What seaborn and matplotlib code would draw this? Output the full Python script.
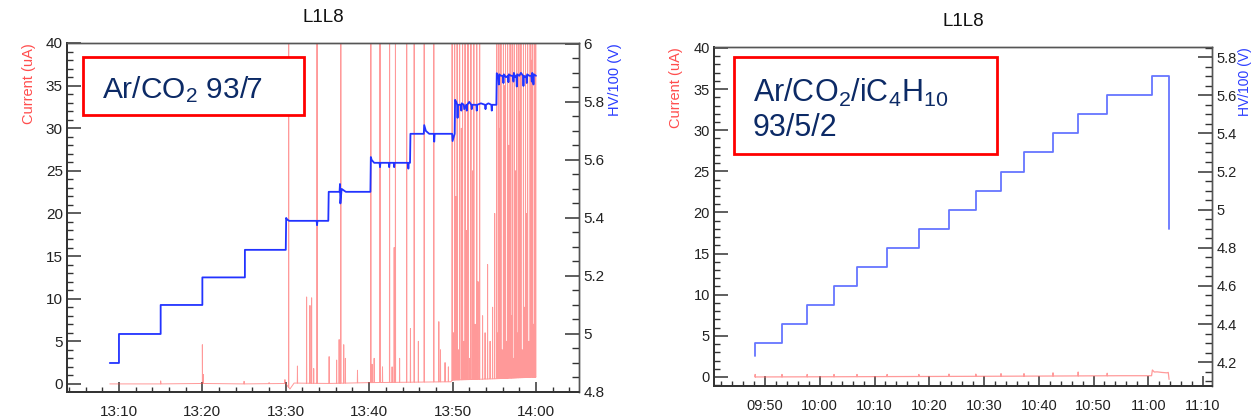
import numpy as np
import matplotlib
matplotlib.use("Agg")
import matplotlib.pyplot as plt
from matplotlib.ticker import MultipleLocator, FuncFormatter
from matplotlib.patches import Rectangle
import seaborn as sns

# ---------------- data (time in minutes after the hour of the first tick) -------------
# Left panel: Ar/CO2 93/7, minutes after 13:00
hv_left_t = [8.9, 10.0, 10.0, 15.0, 15.0, 20.0, 20.0, 25.1, 25.1, 30.0, 30.05, 30.15, 30.4,
             33.7, 33.75, 33.8, 35.1, 35.15, 36.45, 36.5, 36.55, 36.7, 37.2,
             40.15, 40.2, 40.3, 40.6, 41.25, 41.3, 41.35, 42.35, 42.4, 42.45, 42.95, 43.0, 43.05,
             44.65, 44.7, 44.75, 44.9, 44.95, 46.55, 46.6, 46.8, 47.2, 47.75, 47.8, 47.85,
             49.95, 50.0, 50.25, 50.3, 50.45, 50.55, 50.6, 50.65, 51.0, 51.05, 51.1, 51.35, 51.4,
             51.65, 51.7, 51.75, 52.0, 52.25, 52.3, 52.35, 52.6, 52.85, 52.9, 52.95, 53.4, 53.9,
             53.95, 54.0, 54.3, 54.65, 54.7, 54.75, 55.25, 55.3, 55.4, 55.5, 55.55, 55.6, 55.8,
             56.05, 56.1, 56.15, 56.4, 56.65, 56.7, 56.75, 57.0, 57.25, 57.3, 57.35, 57.5, 57.65,
             57.7, 57.75, 58.0, 58.2, 58.45, 58.5, 58.55, 58.7, 58.85, 58.9, 58.95, 59.2, 59.45,
             59.5, 59.55, 59.65, 59.7, 59.75, 60.0]
hv_left_v = [4.90, 4.90, 5.00, 5.00, 5.10, 5.10, 5.195, 5.195, 5.29, 5.29, 5.40, 5.395, 5.39,
             5.39, 5.375, 5.39, 5.39, 5.49, 5.49, 5.517, 5.45, 5.50, 5.49,
             5.49, 5.61, 5.60, 5.59, 5.59, 5.575, 5.59, 5.59, 5.575, 5.59, 5.59, 5.575, 5.59,
             5.59, 5.57, 5.59, 5.59, 5.69, 5.69, 5.72, 5.70, 5.69, 5.69, 5.663, 5.69,
             5.69, 5.665, 5.69, 5.807, 5.80, 5.79, 5.745, 5.79, 5.79, 5.77, 5.795, 5.79, 5.775,
             5.79, 5.77, 5.79, 5.80, 5.79, 5.775, 5.79, 5.79, 5.79, 5.77, 5.79, 5.795, 5.79,
             5.775, 5.79, 5.795, 5.79, 5.77, 5.79, 5.79, 5.899, 5.89, 5.885, 5.86, 5.895, 5.89,
             5.89, 5.865, 5.895, 5.885, 5.89, 5.868, 5.895, 5.89, 5.89, 5.87, 5.9, 5.885, 5.89,
             5.853, 5.895, 5.89, 5.90, 5.89, 5.855, 5.89, 5.885, 5.89, 5.865, 5.895, 5.89, 5.89,
             5.87, 5.9, 5.885, 5.86, 5.895, 5.89]

cur_left_base_t = [8.9, 15.0, 20.0, 25.0, 30.0, 30.5, 31.0, 35.0, 40.0, 45.0, 49.8, 50.0, 55.0, 60.0]
cur_left_base_v = [0.0, 0.0, 0.05, 0.0, 0.05, -0.6, 0.1, 0.05, 0.15, 0.2, 0.25, 0.45, 0.6, 0.8]
spike_left_t = [15.0, 20.0, 20.12, 25.0, 28.0, 29.9,
                30.35, 31.4, 32.5, 32.9, 33.1, 33.35, 33.75, 35.2, 36.1, 36.4, 36.6, 36.95, 37.15,
                38.6, 40.2, 40.35, 40.6, 41.3, 41.6, 42.45, 42.75, 43.0, 43.15, 43.65, 44.5, 44.95,
                45.4, 45.9, 46.6, 47.75, 48.35, 48.55, 49.1, 49.5,
                49.95, 50.1, 50.25, 50.4, 50.55, 50.7, 50.85, 51.05, 51.2, 51.35, 51.5, 51.7, 51.85,
                52.05, 52.2, 52.4, 52.55, 52.7, 52.9, 53.05, 53.25,
                53.6, 53.9, 54.2, 54.5, 54.8, 55.05,
                55.3, 55.45, 55.55, 55.7, 55.8, 55.95, 56.1, 56.2, 56.35, 56.5, 56.6, 56.75, 56.9,
                57.05, 57.15, 57.3, 57.4, 57.55, 57.7, 57.85, 57.95, 58.1, 58.2, 58.35, 58.5,
                58.65, 58.75, 58.9, 59.0, 59.15, 59.3, 59.4, 59.55, 59.7, 59.8, 59.9, 59.97]
spike_left_h = [0.35, 4.6, 1.1, 0.3, 0.15, 0.5,
                45, 2.1, 10.2, 9.2, 10.1, 1.8, 45, 3.2, 2.8, 5.2, 45, 4.6, 3.0,
                1.6, 45, 2.3, 3.0, 45, 2.0, 45, 2.0, 16, 45, 3.0, 45, 6.5,
                45, 5.0, 45, 45, 7.3, 4.0, 2.5, 2.0,
                45, 6, 45, 22, 45, 4, 45, 30, 45, 5, 45, 18, 45,
                3, 45, 25, 45, 7, 45, 12, 45,
                8, 6, 14, 5, 9, 20,
                45, 6, 45, 30, 45, 4, 45, 35, 45, 5, 45, 28, 45,
                8, 45, 3, 45, 25, 45, 6, 45, 32, 45, 4, 45,
                9, 45, 20, 45, 5, 45, 38, 45, 7, 45, 10, 45]
left_xtick_labels = ["13:10", "13:20", "13:30", "13:40", "13:50", "14:00"]

# Right panel: Ar/CO2/iC4H10 93/5/2, minutes after 09:00
hv_right_t = [48.2, 48.2, 53.1, 53.1, 57.7, 57.7, 62.6, 62.6, 66.8, 66.8, 72.3, 72.3, 78.1, 78.1,
              83.6, 83.6, 88.5, 88.5, 93.1, 93.1, 97.3, 97.3, 102.6, 102.6, 107.2, 107.2,
              112.5, 112.5, 120.7, 120.7, 123.8, 123.8]
hv_right_v = [4.23, 4.3, 4.3, 4.4, 4.4, 4.5, 4.5, 4.6, 4.6, 4.7, 4.7, 4.8, 4.8, 4.9,
              4.9, 5.0, 5.0, 5.1, 5.1, 5.2, 5.2, 5.3, 5.3, 5.4, 5.4, 5.5,
              5.5, 5.6, 5.6, 5.7, 5.7, 4.9]
cur_right_base_t = [48.2, 60.0, 75.0, 90.0, 105.0, 115.0, 120.6, 120.75, 121.1, 121.6, 122.5,
                    123.4, 123.65, 123.8]
cur_right_base_v = [0.0, 0.02, 0.05, 0.08, 0.12, 0.15, 0.15, 0.85, 0.6, 0.62, 0.55, 0.5, 0.55, -0.3]
spike_right_t = [48.2, 53.1, 57.7, 62.6, 66.8, 72.3, 78.1, 83.6, 88.5, 93.1, 97.3, 102.6, 107.2, 112.5]
spike_right_h = [0.3, 0.3, 0.3, 0.3, 0.3, 0.3, 0.3, 0.35, 0.35, 0.4, 0.4, 0.5, 0.6, 0.45]
right_xtick_labels = ["09:50", "10:00", "10:10", "10:20", "10:30", "10:40", "10:50", "11:00", "11:10"]


def with_spikes(bt, bv, st, sh, half=0.02):
    pts = list(zip(bt, bv))
    for t, h in zip(st, sh):
        b = float(np.interp(t, bt, bv))
        pts += [(t - half, b), (t, h), (t + half, b)]
    pts.sort(key=lambda p: p[0])
    return [p[0] for p in pts], [p[1] for p in pts]


def label_pos(labels, hour0):
    out = []
    for s in labels:
        h, m = s.split(":")
        out.append(int(h) * 60 + int(m) - hour0 * 60)
    return out


sns.set_style("ticks")
plt.rcParams["font.family"] = ["Liberation Sans", "DejaVu Sans"]
plt.rcParams["mathtext.fontset"] = "custom"
plt.rcParams["mathtext.rm"] = "Liberation Sans"
plt.rcParams["mathtext.it"] = "Liberation Sans"
plt.rcParams["mathtext.default"] = "regular"

fig = plt.figure(figsize=(12.51, 4.19), dpi=100)

fmt = FuncFormatter(lambda v, p: "%g" % round(v, 3))
TXT = "#0c2a66"


def style_panel(ax, ax2, xlim, ylim, y2lim, xt_labels, hour0, lab_fs, y2_major, y2_label_x, y_label_x,
                lbl_fs):
    ax.set_xlim(*xlim)
    ax.set_ylim(*ylim)
    ax2.set_ylim(*y2lim)
    ax.set_xticks(label_pos(xt_labels, hour0))
    ax.set_xticklabels(xt_labels)
    ax.xaxis.set_minor_locator(MultipleLocator(2))
    ax.yaxis.set_major_locator(MultipleLocator(5))
    ax.yaxis.set_minor_locator(MultipleLocator(1))
    ax2.yaxis.set_major_locator(MultipleLocator(y2_major))
    ax2.yaxis.set_minor_locator(MultipleLocator(0.05))
    ax2.yaxis.set_major_formatter(fmt)
    tc = "#333333"
    ax.tick_params(axis="x", which="major", direction="in", length=7, width=1.1, color=tc,
                   labelsize=lab_fs, pad=9, labelcolor="#222222")
    ax.tick_params(axis="x", which="minor", direction="in", length=3.5, width=1.0, color=tc)
    ax.tick_params(axis="y", which="major", direction="in", length=10, width=1.1, color=tc,
                   labelsize=lab_fs, pad=3, labelcolor="#222222", left=True, right=False)
    ax.tick_params(axis="y", which="minor", direction="in", length=4.5, width=1.0, color=tc,
                   left=True, right=False)
    ax2.tick_params(axis="y", which="major", direction="in", length=10, width=1.1, color=tc,
                    labelsize=lab_fs, pad=3, labelcolor="#222222", right=True, left=False)
    ax2.tick_params(axis="y", which="minor", direction="in", length=5, width=1.0, color=tc,
                    right=True, left=False)
    for a in (ax, ax2):
        for s in ["left", "bottom"]:
            a.spines[s].set_color("#333333")
            a.spines[s].set_linewidth(1.3)
        for s in ["top", "right"]:
            a.spines[s].set_visible(True)
            a.spines[s].set_color("#555555")
            a.spines[s].set_linewidth(1.0)
    ax.set_xlabel("")
    ax.set_ylabel("Current (uA)", color="#ff4d4d", fontsize=10.5, loc="top")
    ax.yaxis.set_label_coords(y_label_x, 1.0)
    ax2.set_ylabel("HV/100 (V)", color="#2a3cff", fontsize=lbl_fs, loc="top")
    ax2.yaxis.set_label_coords(y2_label_x, 1.0)
    ax.set_title("L1L8", fontsize=13.5, pad=15, color="#111111")


# ---------------- left panel ----------------
axL = fig.add_axes([67 / 1251, 1 - 392 / 419, 512 / 1251, 349 / 419])
axL2 = axL.twinx()
ct, cv = with_spikes(cur_left_base_t, cur_left_base_v, spike_left_t, spike_left_h)
sns.lineplot(x=ct, y=cv, ax=axL, sort=False, estimator=None, color="#ff4545", alpha=0.55, lw=0.7)
sns.lineplot(x=hv_left_t, y=hv_left_v, ax=axL2, sort=False, estimator=None, color="#2233ff", lw=1.3)
style_panel(axL, axL2, (3.77, 65.16), (-0.95, 40.0), (4.8, 6.003), left_xtick_labels, 13, 11,
            0.2, (608 - 67) / 512, (36 - 67) / 512, 10.5)
axL.add_patch(Rectangle((0.031, 0.794), 0.432, 0.166, transform=axL.transAxes, fill=True,
                        facecolor="white", edgecolor="#ff0000", lw=2, zorder=5))
axL.text(0.068, 0.842, "Ar/CO$_2$ 93/7", transform=axL.transAxes, fontsize=21.5, color=TXT,
         va="baseline", ha="left", zorder=6)

# ---------------- right panel ----------------
axR = fig.add_axes([714 / 1251, 1 - 386 / 419, 498 / 1251, 339 / 419])
axR2 = axR.twinx()
ct, cv = with_spikes(cur_right_base_t, cur_right_base_v, spike_right_t, spike_right_h)
sns.lineplot(x=ct, y=cv, ax=axR, sort=False, estimator=None, color="#ff7070", alpha=0.7, lw=0.9)
sns.lineplot(x=hv_right_t, y=hv_right_v, ax=axR2, sort=False, estimator=None, color="#6675ff", lw=1.3)
style_panel(axR, axR2, (40.68, 131.64), (-1.1, 40.12), (4.075, 5.853), right_xtick_labels, 9, 10.5,
            0.2, (1237.5 - 714) / 498, (683 - 714) / 498, 10)
axR.add_patch(Rectangle((0.040, 0.684), 0.528, 0.287, transform=axR.transAxes, fill=True,
                        facecolor="white", edgecolor="#ff0000", lw=2, zorder=5))
axR.text(0.078, 0.838, "Ar/CO$_2$/iC$_4$H$_{10}$", transform=axR.transAxes, fontsize=22, color=TXT,
         va="baseline", ha="left", zorder=6)
axR.text(0.078, 0.737, "93/5/2", transform=axR.transAxes, fontsize=22, color=TXT,
         va="baseline", ha="left", zorder=6)

fig.savefig("out.png", dpi=100)
